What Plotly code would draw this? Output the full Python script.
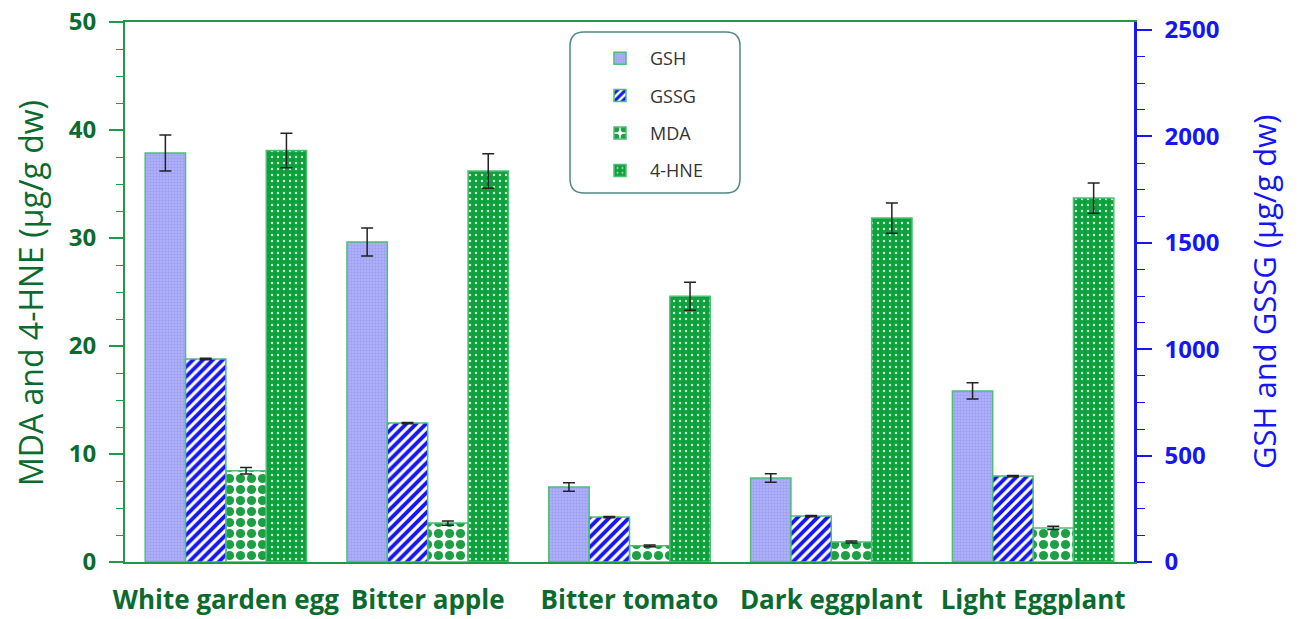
import plotly.graph_objects as go

# Samples and measurements
categories = ["White garden egg", "Bitter apple", "Bitter tomato", "Dark eggplant", "Light Eggplant"]

# Right axis (µg/g dw)
gsh = [1922, 1504, 352, 395, 804]
gsh_err = [85, 66, 20, 20, 38]
gssg = [954, 653, 211, 216, 404]
gssg_err = [3, 3, 3, 3, 3]

# Left axis (µg/g dw)
mda = [8.45, 3.6, 1.5, 1.85, 3.15]
mda_err = [0.3, 0.2, 0.08, 0.1, 0.15]
hne = [38.1, 36.2, 24.6, 31.85, 33.7]
hne_err = [1.6, 1.6, 1.3, 1.4, 1.4]

FONT = "Open Sans"
DARK_GREEN = "#0b6b2e"
AXIS_GREEN = "#1f9a48"
BLUE = "#1515f5"
EDGE = "#4cbf74"

W, H = 1299, 619
ML, MR, MT, MB = 125, 165, 22, 57
PW, PH = W - ML - MR, H - MT - MB


def px(x):
    return (x - ML) / PW


def py(y):
    return (H - MB - y) / PH


err_style = dict(type="data", thickness=1.5, width=6, color="#222222")

fig = go.Figure()

fig.add_trace(go.Bar(
    name="GSH", x=categories, y=gsh, yaxis="y2",
    offset=-0.4, width=0.2, legendgroup="a",
    marker=dict(color="#aeb0fc", line=dict(color=EDGE, width=1.5),
                pattern=dict(shape=".", fgcolor="#9ea0f0", bgcolor="#b2b4ff",
                             size=3, solidity=0.5, fgopacity=1)),
    error_y=dict(array=gsh_err, **err_style),
))
fig.add_trace(go.Bar(
    name="GSSG", x=categories, y=gssg, yaxis="y2",
    offset=-0.2, width=0.2, legendgroup="b",
    marker=dict(color="white", line=dict(color=EDGE, width=1.5),
                pattern=dict(shape="/", fgcolor=BLUE, bgcolor="white",
                             size=7, solidity=0.55, fgopacity=1)),
    error_y=dict(array=gssg_err, **err_style),
))
fig.add_trace(go.Bar(
    name="MDA", x=categories, y=mda, yaxis="y",
    offset=0.0, width=0.2, legendgroup="c",
    marker=dict(color="#1d9f44", line=dict(color=EDGE, width=1.5),
                pattern=dict(shape=".", fgcolor="#1d9f44", bgcolor="white",
                             size=11, solidity=0.55, fgopacity=1)),
    error_y=dict(array=mda_err, **err_style),
))
fig.add_trace(go.Bar(
    name="4-HNE", x=categories, y=hne, yaxis="y",
    offset=0.2, width=0.2, legendgroup="d",
    marker=dict(color="#0fa03e", line=dict(color=EDGE, width=1.5),
                pattern=dict(shape=".", fgcolor="#c8f0d4", bgcolor="#0fa03e",
                             size=6, solidity=0.12, fgopacity=1)),
    error_y=dict(array=hne_err, **err_style),
))

# Rounded legend frame
x0, x1, y0, y1, r = 570, 740, 32, 193, 14
path = (
    f"M {px(x0 + r)} {py(y0)} L {px(x1 - r)} {py(y0)} "
    f"Q {px(x1)} {py(y0)} {px(x1)} {py(y0 + r)} "
    f"L {px(x1)} {py(y1 - r)} Q {px(x1)} {py(y1)} {px(x1 - r)} {py(y1)} "
    f"L {px(x0 + r)} {py(y1)} Q {px(x0)} {py(y1)} {px(x0)} {py(y1 - r)} "
    f"L {px(x0)} {py(y0 + r)} Q {px(x0)} {py(y0)} {px(x0 + r)} {py(y0)} Z"
)
fig.add_shape(type="path", path=path, xref="paper", yref="paper",
              line=dict(color="#4f8a80", width=1.5), fillcolor="white", layer="below")

# Axis titles
fig.add_annotation(text="MDA and 4-HNE (µg/g dw)", xref="paper", yref="paper",
                   x=px(31), y=py(293), xanchor="center", yanchor="middle",
                   textangle=-90, showarrow=False,
                   font=dict(family=FONT, size=32, color=DARK_GREEN))
fig.add_annotation(text="GSH and GSSG (µg/g dw)", xref="paper", yref="paper",
                   x=px(1264), y=py(292), xanchor="center", yanchor="middle",
                   textangle=-90, showarrow=False,
                   font=dict(family=FONT, size=31, color=BLUE))

fig.update_layout(
    width=W, height=H,
    margin=dict(l=ML, r=MR, t=MT, b=MB, autoexpand=False),
    paper_bgcolor="white", plot_bgcolor="white",
    barmode="overlay",
    font=dict(family=FONT, color=DARK_GREEN),
    legend=dict(
        x=px(590), y=py(40), xanchor="left", yanchor="top",
        bgcolor="rgba(0,0,0,0)", borderwidth=0,
        font=dict(family=FONT, size=18, color="#333333"),
        traceorder="grouped", tracegroupgap=11, itemwidth=50,
    ),
    xaxis=dict(
        showline=True, linecolor=AXIS_GREEN, linewidth=2, mirror=True,
        ticks="", showgrid=False, range=[-0.5, 4.5], ticklabelstandoff=14,
        automargin=False,
        tickfont=dict(family=FONT, size=26, color=DARK_GREEN, weight="bold"),
    ),
    yaxis=dict(
        range=[0, 50], dtick=10, showgrid=False, zeroline=False,
        showline=True, linecolor=AXIS_GREEN, linewidth=2,
        ticks="outside", ticklen=14, tickwidth=1.5, tickcolor=AXIS_GREEN,
        ticklabelstandoff=8, automargin=False,
        minor=dict(dtick=2.5, ticks="outside", ticklen=7, tickwidth=1.2, tickcolor=AXIS_GREEN),
        tickfont=dict(family=FONT, size=24, color=DARK_GREEN, weight="bold"),
    ),
    yaxis2=dict(
        overlaying="y", side="right",
        range=[0, 2500 * PH / (PH - 8)], tickvals=[0, 500, 1000, 1500, 2000, 2500],
        showgrid=False, zeroline=False,
        showline=True, linecolor=BLUE, linewidth=2.5,
        ticks="outside", ticklen=15, tickwidth=1.5, tickcolor=BLUE,
        ticklabelstandoff=8, automargin=False,
        minor=dict(tickvals=[v for v in range(125, 2500, 125) if v % 500], ticks="outside",
                   ticklen=8, tickwidth=1.2, tickcolor=BLUE),
        tickfont=dict(family=FONT, size=24, color=BLUE, weight="bold"),
    ),
)

fig.write_html("out.html")
